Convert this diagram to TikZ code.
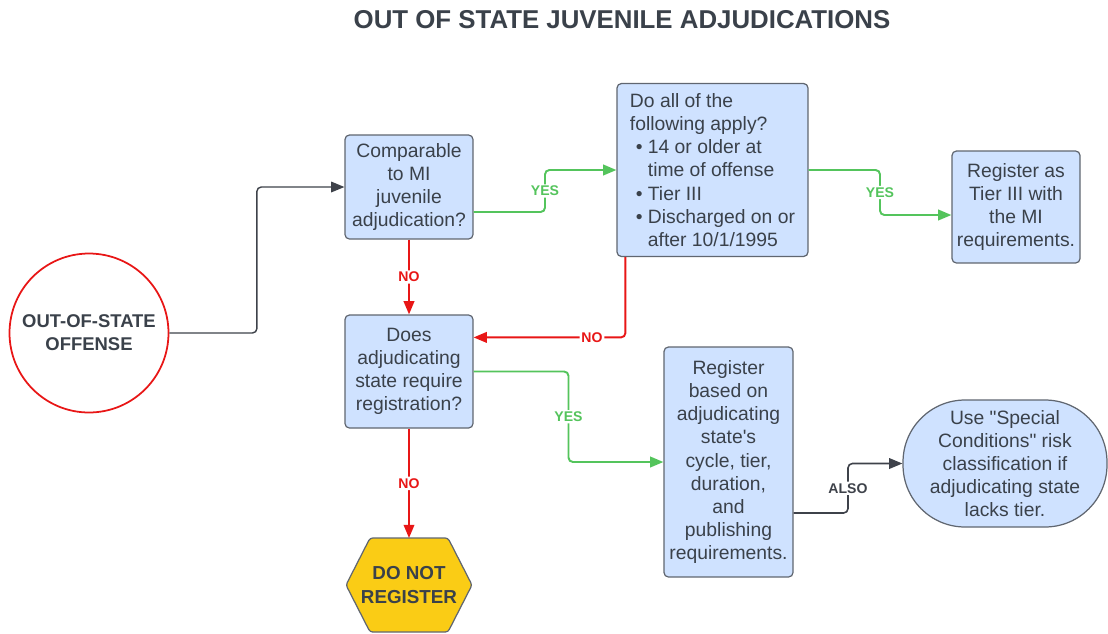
\documentclass[tikz,border=0pt]{standalone}
\usepackage{fontspec}
\setmainfont{Liberation Sans}
\usetikzlibrary{calc,arrows.meta,backgrounds}

\definecolor{boxblue}{RGB}{207,226,255}
\definecolor{edgegray}{RGB}{96,102,112}
\definecolor{txtgray}{RGB}{58,65,74}
\definecolor{yesgreen}{RGB}{84,196,92}
\definecolor{nored}{RGB}{232,22,22}
\definecolor{darkarrow}{RGB}{62,66,74}
\definecolor{hexyellow}{RGB}{250,204,21}

\newcommand{\itm}{\hspace*{3.4pt}\makebox[6.8pt][l]{\textbullet}}
\newcommand{\ind}{\hspace*{10.2pt}}

\tikzset{
  box/.style={draw=edgegray, fill=boxblue, line width=0.7pt, rounded corners=2.5pt,
    align=center, text=txtgray, inner sep=1pt, font=\fontsize{11}{13.2}\selectfont},
  lbl/.style={fill=white, inner sep=1pt, font=\bfseries\fontsize{8}{9}\selectfont},
  flow/.style={line width=1.1pt, rounded corners=2.5pt, -{Triangle[length=7.5pt,width=6pt]}},
}

\begin{document}
\begin{tikzpicture}[x=0.02cm, y=-0.02cm]
\useasboundingbox (0,0) rectangle (1108,633);
\node[text=txtgray, font=\bfseries\fontsize{14.7}{17}\selectfont] (title) at (622,20) {OUT OF STATE JUVENILE ADJUDICATIONS};

\node[circle, draw=nored, line width=1pt, fill=white, minimum size=3.18cm, align=center, text=txtgray,
  font=\bfseries\fontsize{10.5}{13}\selectfont] (offense) at (89,333) {OUT-OF-STATE\\OFFENSE};
\node[box, minimum width=2.56cm, minimum height=2.08cm] (comp) at (409,187) {Comparable\\to MI\\juvenile\\adjudication?};
\node[box, minimum width=3.82cm, minimum height=3.46cm, align=left] (apply) at (712.5,170)
  {Do all of the\\following apply?\\\itm 14 or older at\\\ind time of offense\\\itm Tier III\\\itm Discharged on or\\\ind after 10/1/1995};
\node[box, minimum width=2.56cm, minimum height=2.24cm] (tier3) at (1016,207) {Register as\\Tier III with\\the MI\\requirements.};
\node[box, minimum width=2.56cm, minimum height=2.26cm] (require) at (409,371.5) {Does\\adjudicating\\state require\\registration?};
\node[box, minimum width=2.58cm, minimum height=4.6cm] (basedon) at (728.5,462)
  {Register\\based on\\adjudicating\\state\textquotesingle s\\cycle, tier,\\duration,\\and\\publishing\\requirements.};
\node[box, rounded corners=1.24cm, minimum width=4.08cm, minimum height=2.54cm] (special) at (1005,463.5)
  {Use \textquotedbl Special\\Conditions\textquotedbl{} risk\\classification if\\adjudicating state\\lacks tier.};
\node[minimum width=2.52cm, minimum height=1.88cm, outer sep=0pt, align=center, text=txtgray,
  font=\bfseries\fontsize{10.7}{13.6}\selectfont] (dnr) at (409,585) {DO NOT\\REGISTER};
\begin{scope}[on background layer]
\filldraw[fill=hexyellow, draw=edgegray, line width=0.7pt, rounded corners=1.5pt]
  ($(dnr.north west)+(24,0)$) -- ($(dnr.north east)+(-24,0)$) -- (dnr.east)
  -- ($(dnr.south east)+(-24,0)$) -- ($(dnr.south west)+(24,0)$) -- (dnr.west) -- cycle;
\end{scope}

\coordinate (c1) at ($(comp.east)+(0,25)$);
\coordinate (c2) at ($(tier3.west)+(0,8)$);
\coordinate (c3) at ($(apply.south west)+(9,0)$);
\coordinate (c4) at ($(require.north east)+(0,23)$);
\coordinate (c5) at ($(basedon.east)+(0,51)$);

\draw[flow, draw=darkarrow, line width=0.8pt] (offense.east) -| ($(offense.east)!.5!(comp.west)$) |- (comp.west);
\draw[flow, draw=yesgreen] (c1) -| ($(c1)!.5!(apply.west)$) node[lbl, text=yesgreen] {YES} |- (apply.west);
\draw[flow, draw=yesgreen] (apply.east) -| ($(apply.east)!.5!(c2)$) node[lbl, text=yesgreen] {YES} |- (c2);
\draw[flow, draw=nored] (comp.south) -- node[lbl, text=nored] {NO} (require.north);
\draw[flow, draw=nored] (c3) |- node[lbl, text=nored, pos=.61] {NO} (c4);
\draw[flow, draw=yesgreen] (require.east) -| ($(require.east)!.5!(basedon.west)$) node[lbl, text=yesgreen] {YES} |- (basedon.west);
\draw[flow, draw=darkarrow, line width=0.9pt] (c5) -| ($(c5)!.5!(special.west)$) node[lbl, text=darkarrow] {ALSO} |- (special.west);
\draw[flow, draw=nored] (require.south) -- node[lbl, text=nored] {NO} (dnr.north);
\end{tikzpicture}
\end{document}
